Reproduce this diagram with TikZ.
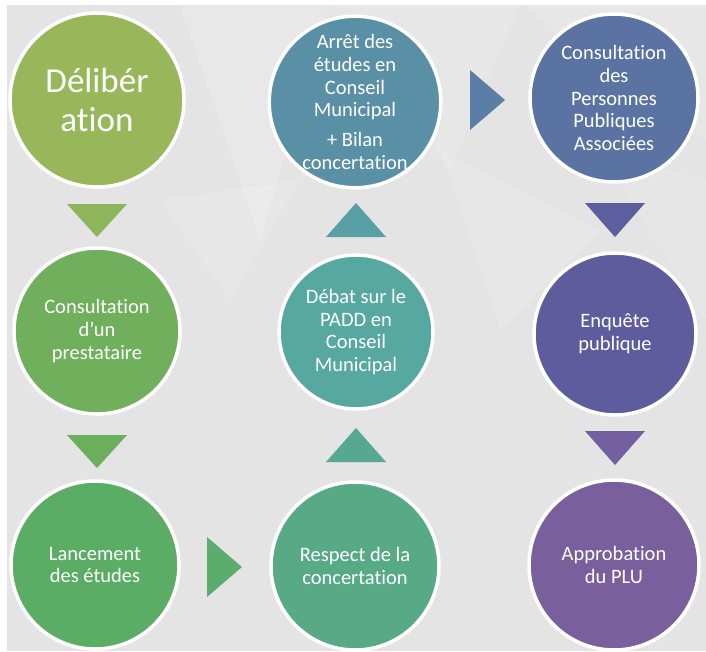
\documentclass[tikz,border=0pt]{standalone}
\usepackage{fontspec}
\setmainfont{Carlito}[RawFeature={-liga}]
\begin{document}
\begin{tikzpicture}[x=1pt,y=-1pt,
  stepcircle/.style={circle, draw=white, line width=3.5pt, text=white, align=center,
    inner sep=0pt, font=\fontsize{20.5}{22.8}\selectfont}]
\definecolor{bgc}{HTML}{E3E4E3}
\definecolor{cA}{HTML}{97B75A}
\definecolor{cB}{HTML}{70AF5B}
\definecolor{cC}{HTML}{5BAD66}
\definecolor{cD}{HTML}{57AA85}
\definecolor{cE}{HTML}{57A8A1}
\definecolor{cF}{HTML}{5A90A6}
\definecolor{cG}{HTML}{5B73A2}
\definecolor{cH}{HTML}{5F5C9D}
\definecolor{cI}{HTML}{795F9B}
\definecolor{tA}{HTML}{8DB55A}
\definecolor{tB}{HTML}{6BAF5C}
\definecolor{tC}{HTML}{5BAD6E}
\definecolor{tD}{HTML}{56A98E}
\definecolor{tE}{HTML}{59A0A6}
\definecolor{tF}{HTML}{5A7EA5}
\definecolor{tG}{HTML}{5D5EA0}
\definecolor{tH}{HTML}{7460A0}
\useasboundingbox (0,0) rectangle (706,651);
\fill[white] (0,0) rectangle (706,651);
\fill[bgc] (7,5) rectangle (706,651);
% faint background facets
\fill[white, opacity=0.18] (180,5) -- (330,5) -- (260,240) -- cycle;
\fill[white, opacity=0.14] (330,5) -- (520,5) -- (450,170) -- cycle;
\fill[white, opacity=0.12] (520,5) -- (706,5) -- (706,140) -- cycle;
\fill[white, opacity=0.12] (440,150) -- (600,230) -- (500,330) -- cycle;
\fill[white, opacity=0.14] (160,200) -- (300,180) -- (230,300) -- cycle;
\fill[white, opacity=0.1] (600,150) -- (706,180) -- (706,320) -- cycle;
% circles
\node[stepcircle, fill=cA, minimum size=174pt, font=\fontsize{35}{39}\selectfont] (delib) at (97,100) {Délibér\\ation};
\node[stepcircle, fill=cB, minimum size=166pt] (consult) at (97,331) {Consultation\\d’un\\prestataire};
\node[stepcircle, fill=cC, minimum size=168pt] (lance) at (95,565) {Lancement\\des études};
\node[stepcircle, fill=cD, minimum size=168pt] (respect) at (355,566) {Respect de la\\concertation};
\node[stepcircle, fill=cE, minimum size=154pt] (debat) at (356,332) {Débat sur le\\PADD en\\Conseil\\Municipal};
\node[stepcircle, fill=cF, minimum size=168pt] (arret) at (355,102) {Arrêt des\\études en\\Conseil\\Municipal\\[7pt]+ Bilan\\concertation};
\node[stepcircle, fill=cG, minimum size=168pt] (ppa) at (614,98) {Consultation\\des\\Personnes\\Publiques\\Associées};
\node[stepcircle, fill=cH, minimum size=162pt] (enq) at (615,334) {Enquête\\publique};
\node[stepcircle, fill=cI, minimum size=170pt] (appro) at (614,565) {Approbation\\du PLU};
% arrow triangles
\fill[tA] (67,204) -- (127,204) -- (97,237) -- cycle;
\fill[tB] (67,435) -- (127,435) -- (97,468) -- cycle;
\fill[tC] (207,537) -- (242,567) -- (207,597) -- cycle;
\fill[tD] (326,462) -- (386,462) -- (356,428) -- cycle;
\fill[tE] (326,237) -- (386,237) -- (356,203) -- cycle;
\fill[tF] (470,70) -- (505,100) -- (470,130) -- cycle;
\fill[tG] (585,203) -- (645,203) -- (615,237) -- cycle;
\fill[tH] (585,431) -- (645,431) -- (615,465) -- cycle;
\end{tikzpicture}
\end{document}
